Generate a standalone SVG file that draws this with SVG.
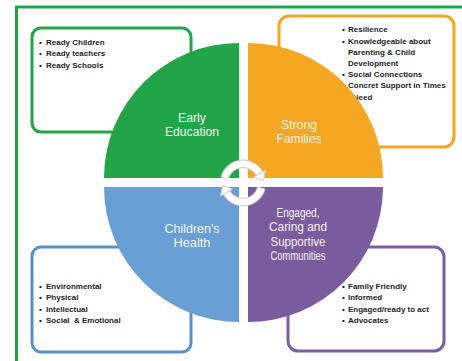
<svg xmlns="http://www.w3.org/2000/svg" width="462" height="361" viewBox="0 0 462 361">
<style>
.box{fill:#fff;stroke-width:3}
.li{font-family:"Liberation Sans",Arial,sans-serif;font-size:8px;font-weight:bold;fill:#1c1c2c}
.lbl{font-family:"Liberation Sans",Arial,sans-serif;font-size:12.5px;fill:#F3F3EA;text-anchor:middle}
.sm{font-size:12px}
.arc-o{fill:none;stroke:#cfc8c8;stroke-width:8.5}
.arc-i{fill:none;stroke:#fff;stroke-width:6.5}
.head{fill:#fff;stroke:#cfc8c8;stroke-width:1}
</style>
<rect x="0" y="0" width="462" height="361" fill="#fff"/>
<rect x="16.5" y="7" width="470" height="380" fill="none" stroke="#22A547" stroke-width="3"/>

<g id="box-early">
<rect class="box" x="32" y="28" width="159" height="104" rx="9" stroke="#22A547"/>
<text class="li" x="39" y="45">•</text><text class="li" x="46" y="45">Ready Children</text>
<text class="li" x="39" y="56">•</text><text class="li" x="46" y="56">Ready teachers</text>
<text class="li" x="39" y="68">•</text><text class="li" x="46" y="68">Ready Schools</text>
</g>
<g id="box-families">
<rect class="box" x="279" y="16" width="175" height="131" rx="10" stroke="#F5A623"/>
<text class="li" x="342" y="32">•</text><text class="li" x="348" y="32">Resilience</text>
<text class="li" x="342" y="44">•</text><text class="li" x="348" y="44">Knowledgeable about</text>
<text class="li" x="348" y="55">Parenting &amp; Child</text>
<text class="li" x="348" y="66">Development</text>
<text class="li" x="342" y="77">•</text><text class="li" x="348" y="77">Social Connections</text>
<text class="li" x="342" y="88">•</text><text class="li" x="348" y="88">Concret Support in Times</text>
<text class="li" x="343" y="100">of Need</text>
</g>
<g id="box-health">
<rect class="box" x="32" y="247" width="159" height="105" rx="9" stroke="#5B8FC9"/>
<text class="li" x="39" y="289">•</text><text class="li" x="46" y="289">Environmental</text>
<text class="li" x="39" y="300">•</text><text class="li" x="46" y="300">Physical</text>
<text class="li" x="39" y="312">•</text><text class="li" x="46" y="312">Intellectual</text>
<text class="li" x="39" y="323">•</text><text class="li" x="46" y="323" xml:space="preserve">Social  &amp; Emotional</text>
</g>
<g id="box-communities">
<rect class="box" x="288" y="247" width="156" height="104" rx="10" stroke="#7B5EA7"/>
<text class="li" x="342" y="289">•</text><text class="li" x="348" y="289">Family Friendly</text>
<text class="li" x="342" y="300">•</text><text class="li" x="348" y="300">Informed</text>
<text class="li" x="342" y="312">•</text><text class="li" x="348" y="312">Engaged/ready to act</text>
<text class="li" x="342" y="323">•</text><text class="li" x="348" y="323">Advocates</text>
</g>

<g id="early-education">
<path d="M239,178 L104,178 A135,135 0 0 1 239,43 Z" fill="#22A547"/>
<text class="lbl" x="192" y="121.5" textLength="28" lengthAdjust="spacingAndGlyphs">Early</text>
<text class="lbl" x="192" y="136" textLength="54" lengthAdjust="spacingAndGlyphs">Education</text>
</g>
<g id="strong-families">
<path d="M248,178 L248,43 A135,135 0 0 1 383,178 Z" fill="#F5A623"/>
<text class="lbl" x="299" y="128.5" textLength="36" lengthAdjust="spacingAndGlyphs">Strong</text>
<text class="lbl" x="299" y="143" textLength="45" lengthAdjust="spacingAndGlyphs">Families</text>
</g>
<g id="childrens-health">
<path d="M239,187 L239,322 A135,135 0 0 1 104,187 Z" fill="#6A9FD5"/>
<text class="lbl" x="192" y="232.5" textLength="55" lengthAdjust="spacingAndGlyphs">Children's</text>
<text class="lbl" x="192" y="247" textLength="37" lengthAdjust="spacingAndGlyphs">Health</text>
</g>
<g id="communities">
<path d="M248,187 L383,187 A135,135 0 0 1 248,322 Z" fill="#7A5C9E"/>
<text class="lbl sm" x="298" y="216.5" textLength="43" lengthAdjust="spacingAndGlyphs">Engaged,</text>
<text class="lbl sm" x="298" y="231" textLength="58" lengthAdjust="spacingAndGlyphs">Caring and</text>
<text class="lbl sm" x="298" y="245.5" textLength="55" lengthAdjust="spacingAndGlyphs">Supportive</text>
<text class="lbl sm" x="298" y="260" textLength="55" lengthAdjust="spacingAndGlyphs">Communities</text>
</g>

<g id="connectors">
<path class="arc-o" d="M224.6,178 A19,19 0 0 1 259.5,173.5"/>
<path class="arc-o" d="M261.4,187.9 A19,19 0 0 1 226.5,192.5"/>
<path class="arc-i" d="M224.6,178 A19,19 0 0 1 259.5,173.5"/>
<path class="arc-i" d="M261.4,187.9 A19,19 0 0 1 226.5,192.5"/>
<polygon class="head" points="253.4,177 265.5,170 263.5,180.4"/>
<polygon class="head" points="232.6,189 220.5,196 222.5,185.6"/>
</g>
</svg>
